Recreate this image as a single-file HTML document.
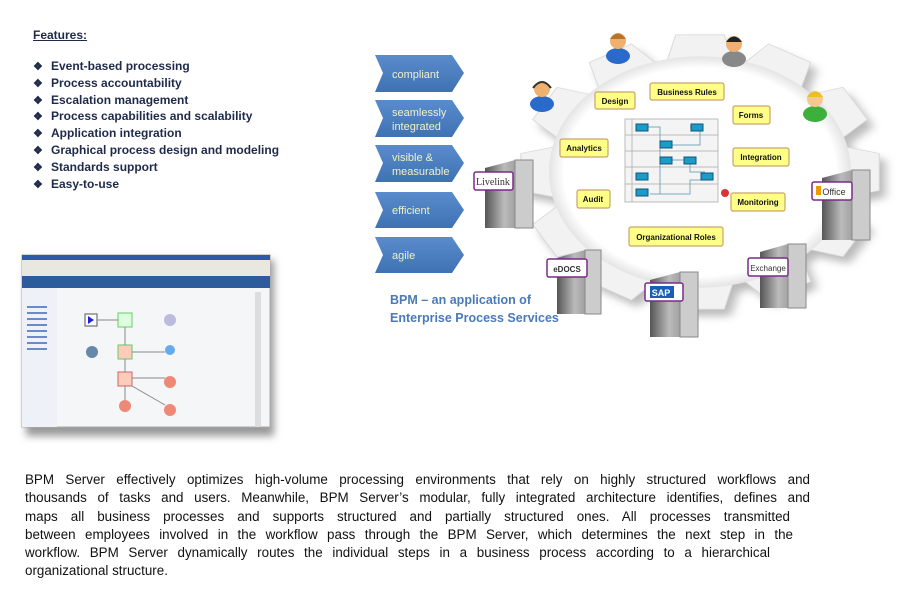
<!DOCTYPE html>
<html><head><meta charset="utf-8"><style>
body{margin:0;width:917px;height:592px;background:#fff;position:relative;overflow:hidden;font-family:"Liberation Sans",sans-serif}
.feat{position:absolute;left:33px;top:28px;color:#1f2a4a;font-weight:bold;font-size:12px}
.feat .h{text-decoration:underline;margin-bottom:17px}
.feat div.i{height:16.8px;white-space:nowrap}
.feat span.b{display:inline-block;width:18px;font-size:11px}
.para{position:absolute;left:25px;top:472px;font-size:13.4px;color:#111}
.para div{height:18.3px;text-align:justify;text-align-last:justify;white-space:nowrap}
.para div.l{text-align-last:left}
</style></head><body>
<div class="feat">
<div class="h">Features:</div>
<div class="i"><span class="b">❖</span>Event-based processing</div>
<div class="i"><span class="b">❖</span>Process accountability</div>
<div class="i"><span class="b">❖</span>Escalation management</div>
<div class="i"><span class="b">❖</span>Process capabilities and scalability</div>
<div class="i"><span class="b">❖</span>Application integration</div>
<div class="i"><span class="b">❖</span>Graphical process design and modeling</div>
<div class="i"><span class="b">❖</span>Standards support</div>
<div class="i"><span class="b">❖</span>Easy-to-use</div>
</div>

<svg width="917" height="470" style="position:absolute;left:0;top:0">
<defs>
<filter id="sh" x="-20%" y="-20%" width="140%" height="140%"><feGaussianBlur stdDeviation="4"/></filter>
<linearGradient id="srv" x1="0" x2="1"><stop offset="0" stop-color="#555"/><stop offset=".4" stop-color="#bbb"/><stop offset="1" stop-color="#777"/></linearGradient>
<linearGradient id="chev" x1="0" y1="0" x2="0" y2="1"><stop offset="0" stop-color="#5a8ccc"/><stop offset="1" stop-color="#3f72b3"/></linearGradient>
<radialGradient id="gear" cx=".5" cy=".5" r=".5"><stop offset=".9" stop-color="#fff"/><stop offset="1" stop-color="#e4e4e4"/></radialGradient>
<g id="tooth"><polygon points="-26,-112 26,-112 19,-140 -19,-140"/></g>
</defs>
<!-- screenshot -->
<rect x="26" y="260" width="248" height="176" fill="#999" filter="url(#sh)"/>
<rect x="22" y="255" width="248" height="172" fill="#f4f6f8" stroke="#aaa"/>
<rect x="22" y="255" width="248" height="5" fill="#2a5aa8"/>
<rect x="22" y="260" width="248" height="16" fill="#e8e8e0"/>
<rect x="22" y="276" width="248" height="12" fill="#2c5c9c"/>
<rect x="22" y="288" width="35" height="139" fill="#eef2f8"/>
<g fill="#6a8ac8"><rect x="27" y="306" width="20" height="2"/><rect x="27" y="312" width="20" height="2"/><rect x="27" y="318" width="20" height="2"/><rect x="27" y="324" width="20" height="2"/><rect x="27" y="330" width="20" height="2"/><rect x="27" y="336" width="20" height="2"/><rect x="27" y="342" width="20" height="2"/><rect x="27" y="348" width="20" height="2"/></g>
<rect x="85" y="314" width="12" height="12" fill="#fff" stroke="#555"/><path d="M88 316 l6 4 -6 4z" fill="#22d"/>
<rect x="118" y="313" width="14" height="14" fill="#dfd" stroke="#6c6"/>
<rect x="118" y="345" width="14" height="14" fill="#fcb" stroke="#6c6"/>
<rect x="118" y="372" width="14" height="14" fill="#fcb" stroke="#c66"/>
<circle cx="125" cy="406" r="6" fill="#e87"/>
<circle cx="170" cy="350" r="5" fill="#6ae"/><circle cx="170" cy="382" r="6" fill="#e87"/><circle cx="170" cy="410" r="6" fill="#e87"/><circle cx="170" cy="320" r="6" fill="#bbd"/><circle cx="92" cy="352" r="6" fill="#68a"/>
<g stroke="#888" fill="none"><path d="M97 320 H118 M125 327 V345 M125 359 V372 M125 386 V400 M132 352 H165 M132 378 H165 M132 386 L165 405"/></g>
<rect x="255" y="292" width="6" height="135" fill="#ddd"/>
<!-- gear -->
<g transform="translate(700,172) scale(1.28,0.98)">
<g filter="url(#sh)" fill="#777" opacity=".5" transform="translate(5,7)">
<circle r="118"/>
<use href="#tooth" transform="rotate(0)"/><use href="#tooth" transform="rotate(30)"/><use href="#tooth" transform="rotate(60)"/><use href="#tooth" transform="rotate(90)"/><use href="#tooth" transform="rotate(120)"/><use href="#tooth" transform="rotate(150)"/><use href="#tooth" transform="rotate(180)"/><use href="#tooth" transform="rotate(210)"/><use href="#tooth" transform="rotate(240)"/><use href="#tooth" transform="rotate(270)"/><use href="#tooth" transform="rotate(300)"/><use href="#tooth" transform="rotate(330)"/>
</g>
<g fill="#f2f2f2" stroke="#dadada" stroke-width=".8">
<use href="#tooth" transform="rotate(0)"/><use href="#tooth" transform="rotate(30)"/><use href="#tooth" transform="rotate(60)"/><use href="#tooth" transform="rotate(90)"/><use href="#tooth" transform="rotate(120)"/><use href="#tooth" transform="rotate(150)"/><use href="#tooth" transform="rotate(180)"/><use href="#tooth" transform="rotate(210)"/><use href="#tooth" transform="rotate(240)"/><use href="#tooth" transform="rotate(270)"/><use href="#tooth" transform="rotate(300)"/><use href="#tooth" transform="rotate(330)"/>
</g>
<circle r="118" fill="url(#gear)"/>
</g>
<!-- center diagram -->
<rect x="625" y="119" width="93" height="83" fill="#f4f4f4" stroke="#bbb"/>
<g stroke="#bbb"><line x1="625" y1="135" x2="718" y2="135"/><line x1="625" y1="151" x2="718" y2="151"/><line x1="625" y1="167" x2="718" y2="167"/><line x1="625" y1="184" x2="718" y2="184"/><line x1="632" y1="119" x2="632" y2="202"/></g>
<g stroke="#7ab" fill="none"><path d="M643 127 H660 V160 M660 127 V194 H680 M668 145 H690 M668 160 H690 V172 H705 M650 194 H690 V180 H712 M690 127 H700 V145 H690"/></g>
<g fill="#1a9cc8" stroke="#157"><rect x="636" y="124" width="12" height="7"/><rect x="691" y="124" width="12" height="7"/><rect x="660" y="141" width="12" height="7"/><rect x="660" y="157" width="12" height="7"/><rect x="684" y="157" width="12" height="7"/><rect x="636" y="173" width="12" height="7"/><rect x="701" y="173" width="12" height="7"/><rect x="636" y="189" width="12" height="7"/></g>
<circle cx="725" cy="193" r="4" fill="#d33"/>
<!-- labels -->
<g font-family="Liberation Sans,sans-serif" font-weight="bold" font-size="8" fill="#111" text-anchor="middle">
<g fill="#ffff88" stroke="#c9a36a" stroke-width="1.2">
<rect x="595" y="92" width="40" height="17" rx="2"/>
<rect x="650" y="83" width="74" height="17" rx="2"/>
<rect x="733" y="106" width="37" height="18" rx="2"/>
<rect x="560" y="139" width="48" height="18" rx="2"/>
<rect x="733" y="148" width="56" height="18" rx="2"/>
<rect x="577" y="190" width="33" height="18" rx="2"/>
<rect x="731" y="193" width="54" height="18" rx="2"/>
<rect x="629" y="227" width="94" height="19" rx="2"/>
</g>
<text x="615" y="104">Design</text><text x="687" y="95">Business Rules</text><text x="751" y="118">Forms</text><text x="584" y="151">Analytics</text><text x="761" y="160">Integration</text><text x="593" y="202">Audit</text><text x="758" y="205">Monitoring</text><text x="676" y="240">Organizational Roles</text>
</g>
<!-- servers -->
<g>
<g transform="translate(485,160)"><path d="M0 8 L30 0 H48 V60 L30 68 H0Z" fill="url(#srv)"/><rect x="30" y="0" width="18" height="68" fill="#ccc" stroke="#888"/></g>
<g transform="translate(822,170)"><path d="M0 8 L30 0 H48 V62 L30 70 H0Z" fill="url(#srv)"/><rect x="30" y="0" width="18" height="70" fill="#ccc" stroke="#888"/></g>
<g transform="translate(557,250)"><path d="M0 8 L28 0 H44 V58 L28 64 H0Z" fill="url(#srv)"/><rect x="28" y="0" width="16" height="64" fill="#ccc" stroke="#888"/></g>
<g transform="translate(650,272)"><path d="M0 8 L30 0 H48 V60 L30 65 H0Z" fill="url(#srv)"/><rect x="30" y="0" width="18" height="65" fill="#ccc" stroke="#888"/></g>
<g transform="translate(760,244)"><path d="M0 8 L28 0 H46 V58 L28 64 H0Z" fill="url(#srv)"/><rect x="28" y="0" width="18" height="64" fill="#ccc" stroke="#888"/></g>
</g>
<g fill="#fff" stroke="#7a2a8a" stroke-width="1.5">
<rect x="474" y="172" width="39" height="18" rx="2"/><rect x="812" y="182" width="40" height="18" rx="2"/><rect x="547" y="259" width="40" height="18" rx="2"/><rect x="645" y="283" width="38" height="18" rx="2"/><rect x="748" y="258" width="40" height="18" rx="2"/>
</g>
<g font-size="9" fill="#333" text-anchor="middle">
<text x="493" y="185" font-family="Liberation Serif,serif" font-size="10">Livelink</text>
<text x="834" y="195">Office</text><rect x="816" y="186" width="5" height="9" fill="#e90"/>
<text x="567" y="272" font-weight="bold" font-size="8">eDOCS</text>
<rect x="650" y="286" width="24" height="12" fill="#1a5fb4"/><text x="661" y="296" fill="#fff" font-weight="bold" font-size="9">SAP</text>
<text x="768" y="271" font-size="8">Exchange</text>
</g>
<!-- people -->
<g>
<g transform="translate(618,42)"><ellipse cx="0" cy="14" rx="12" ry="8" fill="#2a6acb"/><circle cx="0" cy="-1" r="8" fill="#f0b070"/><path d="M-8 -3 Q0 -14 8 -3" fill="#b8742a"/></g>
<g transform="translate(734,45)"><ellipse cx="0" cy="14" rx="12" ry="8" fill="#888"/><circle cx="0" cy="-1" r="8" fill="#f0b070"/><path d="M-8 -3 Q0 -14 8 -3" fill="#222"/></g>
<g transform="translate(542,90)"><ellipse cx="0" cy="14" rx="12" ry="8" fill="#2a6acb"/><circle cx="0" cy="-1" r="8" fill="#f0b070"/><path d="M-9 -2 Q0 -14 9 -2" fill="none" stroke="#333" stroke-width="2"/></g>
<g transform="translate(815,100)"><ellipse cx="0" cy="14" rx="12" ry="8" fill="#3bb03b"/><circle cx="0" cy="-1" r="8" fill="#f5c890"/><path d="M-8 -3 Q0 -14 8 -3" fill="#e8c020"/></g>
</g>
<!-- chevrons -->
<g fill="url(#chev)">
<path d="M375 55 H452 L464 73 L452 92 H375 L383 73Z"/>
<path d="M375 100 H452 L464 118 L452 137 H375 L383 118Z"/>
<path d="M375 145 H452 L464 163 L452 182 H375 L383 163Z"/>
<path d="M375 192 H452 L464 210 L452 228 H375 L383 210Z"/>
<path d="M375 237 H452 L464 255 L452 273 H375 L383 255Z"/>
</g>
<g font-size="11" fill="#eef2c8">
<text x="392" y="78">compliant</text>
<text x="392" y="116">seamlessly</text><text x="392" y="130">integrated</text>
<text x="392" y="161">visible &amp;</text><text x="392" y="175">measurable</text>
<text x="392" y="214">efficient</text>
<text x="392" y="259">agile</text>
</g>
<g font-size="12.5" font-weight="bold" fill="#4a7ab8">
<text x="390" y="304">BPM – an application of</text>
<text x="390" y="322">Enterprise Process Services</text>
</g>
</svg>

<div class="para">
<div style="width:785px">BPM Server effectively optimizes high-volume processing environments that rely on highly structured workflows and</div>
<div style="width:785px">thousands of tasks and users. Meanwhile, BPM Server’s modular, fully integrated architecture identifies, defines and</div>
<div style="width:765px">maps all business processes and supports structured and partially structured ones. All processes transmitted</div>
<div style="width:768px">between employees involved in the workflow pass through the BPM Server, which determines the next step in the</div>
<div style="width:745px">workflow. BPM Server dynamically routes the individual steps in a business process according to a hierarchical</div>
<div class="l">organizational structure.</div>
</div>
</body></html>
